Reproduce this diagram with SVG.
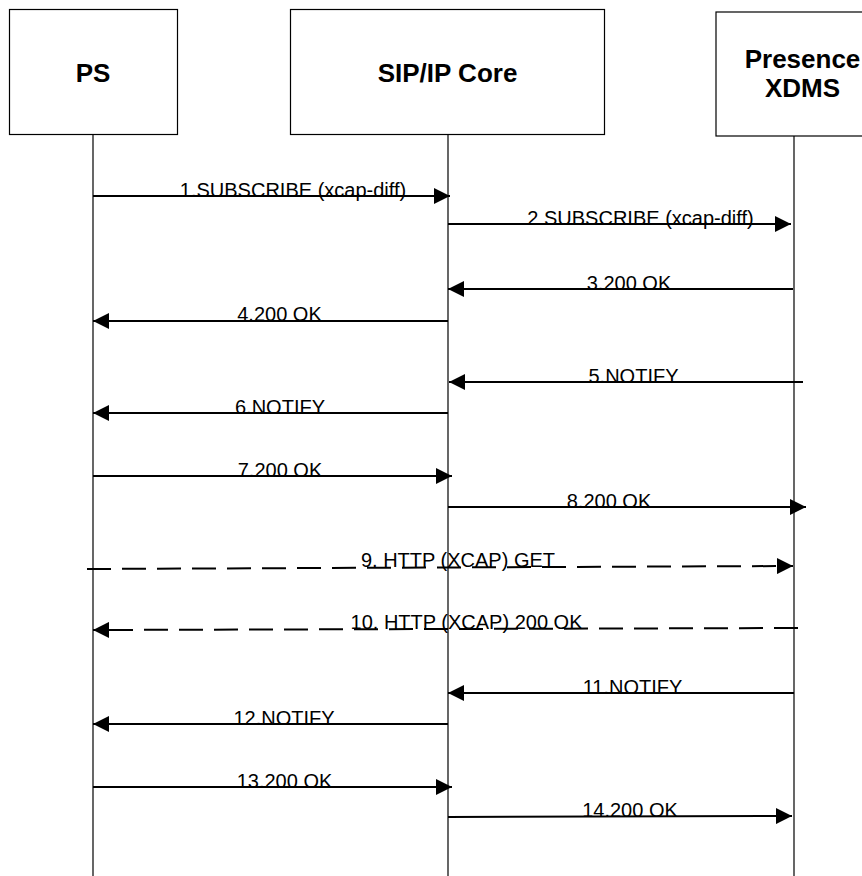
<svg xmlns="http://www.w3.org/2000/svg" width="862" height="876" viewBox="0 0 862 876">
<style>
.box{fill:#fff;stroke:#000;stroke-width:1.2}
.life{stroke:#000;stroke-width:1.2;fill:none}
.title{font-family:"Liberation Sans",Arial,sans-serif;font-weight:bold;font-size:26px;text-anchor:middle;fill:#000}
.lbl{font-family:"Liberation Sans",Arial,sans-serif;font-size:20px;text-anchor:middle;fill:#000}
.msg{stroke:#000;stroke-width:2;fill:none}
.dash{stroke:#000;stroke-width:2;fill:none;stroke-dasharray:24 11}
</style>
<defs>
<marker id="ah" viewBox="0 0 16 16" refX="16" refY="8" markerWidth="16" markerHeight="16" markerUnits="userSpaceOnUse" orient="auto">
<path d="M0,0 L16,8 L0,16 Z" fill="#000"/>
</marker>
</defs>
<rect width="862" height="876" fill="#fff"/>
<g id="ps">
<rect class="box" x="9.5" y="9.5" width="168" height="125"/>
<text class="title" x="93" y="82">PS</text>
<line class="life" x1="93" y1="134" x2="93" y2="876"/>
</g>
<g id="sipcore">
<rect class="box" x="290.5" y="9.5" width="314" height="125"/>
<text class="title" x="447.5" y="82">SIP/IP Core</text>
<line class="life" x1="448" y1="134" x2="448" y2="876"/>
</g>
<g id="xdms">
<rect class="box" x="716" y="12" width="180" height="124"/>
<text class="title" x="802.5" y="68">Presence</text>
<text class="title" x="802.5" y="97">XDMS</text>
<line class="life" x1="794" y1="136" x2="794" y2="876"/>
</g>
<g id="labels">
<text class="lbl" x="293" y="197">1.SUBSCRIBE (xcap-diff)</text>
<text class="lbl" x="640.5" y="225">2 SUBSCRIBE (xcap-diff)</text>
<text class="lbl" x="629" y="290">3.200 OK</text>
<text class="lbl" x="279.5" y="321">4.200 OK</text>
<text class="lbl" x="633.5" y="383">5.NOTIFY</text>
<text class="lbl" x="280" y="414">6.NOTIFY</text>
<text class="lbl" x="280" y="477">7.200 OK</text>
<text class="lbl" x="609" y="508">8.200 OK</text>
<text class="lbl" x="458" y="567">9. HTTP (XCAP) GET</text>
<text class="lbl" x="466.5" y="629">10. HTTP (XCAP) 200 OK</text>
<text class="lbl" x="632.5" y="694">11.NOTIFY</text>
<text class="lbl" x="284" y="725">12.NOTIFY</text>
<text class="lbl" x="284.5" y="788">13.200 OK</text>
<text class="lbl" x="630" y="817">14.200 OK</text>
</g>
<g id="connectors">
<line class="msg" x1="93" y1="196" x2="450" y2="196" marker-end="url(#ah)"/>
<line class="msg" x1="448" y1="224" x2="791" y2="224" marker-end="url(#ah)"/>
<line class="msg" x1="793" y1="289" x2="448" y2="289" marker-end="url(#ah)"/>
<line class="msg" x1="448" y1="321" x2="93" y2="321" marker-end="url(#ah)"/>
<line class="msg" x1="803" y1="382" x2="449" y2="382" marker-end="url(#ah)"/>
<line class="msg" x1="448" y1="413" x2="93" y2="413" marker-end="url(#ah)"/>
<line class="msg" x1="93" y1="476" x2="452" y2="476" marker-end="url(#ah)"/>
<line class="msg" x1="448" y1="507" x2="806" y2="507" marker-end="url(#ah)"/>
<line class="dash" x1="87" y1="569" x2="793" y2="566" marker-end="url(#ah)"/>
<line class="dash" x1="798" y1="628" x2="93" y2="630" marker-end="url(#ah)"/>
<line class="msg" x1="794" y1="693" x2="448" y2="693" marker-end="url(#ah)"/>
<line class="msg" x1="448" y1="724" x2="93" y2="724" marker-end="url(#ah)"/>
<line class="msg" x1="93" y1="787" x2="452" y2="787" marker-end="url(#ah)"/>
<line class="msg" x1="448" y1="817" x2="792" y2="816" marker-end="url(#ah)"/>
</g>
</svg>
